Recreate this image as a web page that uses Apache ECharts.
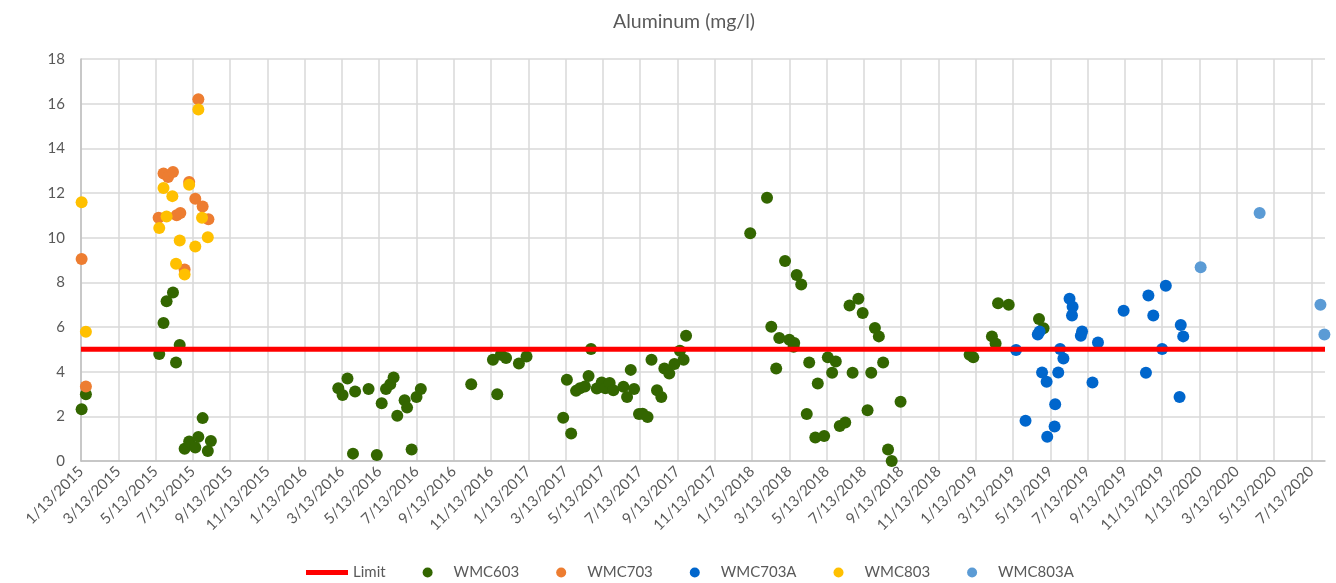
<!DOCTYPE html>
<html>
<head>
<meta charset="utf-8">
<script src="https://cdn.jsdelivr.net/npm/echarts@6/dist/echarts.min.js"></script>
<style>
  html, body { margin: 0; padding: 0; background: #fff; }
  #container { width: 1336px; height: 583px; }
</style>
</head>
<body>
<div id="container"></div>
<script>
// sample dates (m/d/yyyy) and aluminum results
var wmc603Dates = [
  "1/14/2015", "1/21/2015", "5/19/2015", "5/26/2015", "5/31/2015", "6/11/2015", "6/16/2015",
  "6/22/2015", "6/30/2015", "7/7/2015", "7/17/2015", "7/22/2015", "7/29/2015", "8/7/2015", "8/12/2015",
  "3/7/2016", "3/14/2016", "3/22/2016", "3/31/2016", "4/4/2016", "4/26/2016", "5/9/2016", "5/17/2016",
  "5/24/2016", "5/31/2016", "6/6/2016", "6/12/2016", "6/24/2016", "6/28/2016", "7/5/2016", "7/13/2016",
  "7/20/2016", "10/11/2016", "11/16/2016", "11/23/2016", "11/29/2016", "12/7/2016", "12/28/2016", "1/10/2017",
  "3/9/2017", "3/15/2017", "3/22/2017", "3/30/2017", "4/6/2017", "4/14/2017", "4/20/2017", "4/24/2017",
  "5/3/2017", "5/11/2017", "5/17/2017", "5/24/2017", "5/30/2017", "6/16/2017", "6/22/2017", "6/28/2017",
  "7/3/2017", "7/11/2017", "7/17/2017", "7/25/2017", "8/1/2017", "8/10/2017", "8/17/2017", "8/22/2017",
  "8/30/2017", "9/8/2017", "9/17/2017", "9/23/2017", "9/27/2017",
  "1/10/2018", "2/7/2018", "2/14/2018", "2/22/2018", "2/27/2018", "3/6/2018", "3/13/2018", "3/20/2018",
  "3/21/2018", "3/25/2018", "4/2/2018", "4/11/2018", "4/15/2018", "4/25/2018", "4/29/2018", "5/9/2018",
  "5/15/2018", "5/22/2018", "5/28/2018", "6/4/2018", "6/13/2018", "6/20/2018", "6/25/2018", "7/4/2018",
  "7/11/2018", "7/19/2018", "7/25/2018", "7/31/2018", "8/7/2018", "8/14/2018", "8/22/2018", "8/28/2018",
  "9/12/2018",
  "1/3/2019", "1/9/2019", "2/9/2019", "2/15/2019", "2/19/2019", "3/6/2019", "4/25/2019", "5/2/2019"
];
var wmc603Values = [
  2.32, 2.99, 4.79, 6.18, 7.15, 7.55, 4.41,
  5.19, 0.55, 0.87, 0.6, 1.08, 1.92, 0.45, 0.9,
  3.26, 2.95, 3.69, 0.33, 3.11, 3.22, 0.27, 2.59,
  3.22, 3.44, 3.74, 2.03, 2.72, 2.39, 0.51, 2.87,
  3.22, 3.44, 4.53, 2.99, 4.76, 4.61, 4.37, 4.68,
  1.94, 3.64, 1.23, 3.14, 3.26, 3.34, 3.81, 5.01,
  3.25, 3.51, 3.26, 3.49, 3.17, 3.32, 2.87, 4.08,
  3.22, 2.1, 2.12, 1.97, 4.53, 3.17, 2.87, 4.14,
  3.92, 4.34, 4.94, 4.53, 5.61,
  10.2, 11.79, 6.01, 4.14, 5.51, 8.95, 5.43, 5.12,
  5.28, 8.33, 7.9, 2.1, 4.41, 1.05, 3.47, 1.12,
  4.64, 3.95, 4.46, 1.57, 1.72, 6.96, 3.95, 7.26,
  6.63, 2.27, 3.95, 5.96, 5.58, 4.41, 0.52, 0.0,
  2.65,
  4.76, 4.64, 5.58, 5.26, 7.06, 7.0, 6.36, 5.94
];

var wmc703Dates = [
  "1/14/2015", "1/21/2015", "5/18/2015", "5/26/2015", "6/3/2015", "6/11/2015", "6/17/2015",
  "6/23/2015", "6/30/2015", "7/7/2015", "7/17/2015", "7/22/2015", "7/29/2015", "8/8/2015"
];
var wmc703Values = [9.05, 3.34, 10.89, 12.87, 12.72, 12.94, 11.0, 11.1, 8.57, 12.49, 11.74, 16.2, 11.4, 10.82];

var wmc703aDates = [
  "3/18/2019", "4/3/2019", "4/23/2019", "4/26/2019", "4/30/2019", "5/7/2019", "5/8/2019",
  "5/20/2019", "5/21/2019", "5/26/2019", "5/29/2019", "6/4/2019", "6/14/2019", "6/18/2019",
  "6/19/2019", "7/2/2019", "7/4/2019", "7/21/2019", "7/30/2019", "9/11/2019", "10/17/2019",
  "10/21/2019", "10/29/2019", "11/13/2019", "11/19/2019", "12/11/2019", "12/13/2019", "12/17/2019"
];
var wmc703aValues = [
  4.97, 1.8, 5.66, 5.8, 3.96, 3.55, 1.09,
  1.54, 2.54, 3.96, 5.01, 4.59, 7.26, 6.51,
  6.91, 5.61, 5.8, 3.52, 5.31, 6.73, 3.95,
  7.41, 6.51, 5.01, 7.85, 2.87, 6.09, 5.58
];

var wmc803Dates = [
  "1/14/2015", "1/21/2015", "5/19/2015", "5/26/2015", "5/31/2015", "6/10/2015", "6/16/2015",
  "6/22/2015", "6/30/2015", "7/7/2015", "7/17/2015", "7/22/2015", "7/28/2015", "8/7/2015"
];
var wmc803Values = [11.59, 5.79, 10.43, 12.22, 10.95, 11.86, 8.83, 9.87, 8.35, 12.37, 9.6, 15.74, 10.89, 10.02];

var wmc803aDates = ["1/15/2020", "4/20/2020", "7/28/2020", "8/4/2020"];
var wmc803aValues = [8.68, 11.1, 7.0, 5.66];

var limitValue = 5;
var axisStart = "1/13/2015";
var axisEnd = "8/5/2020";
var yTicks = [0, 2, 4, 6, 8, 10, 12, 14, 16, 18];

// x axis runs in months counted from 1/13/2015, so gridlines land on the 13th every 2 months
function toMonths(s) {
  var p = s.split("/").map(Number);
  return (p[2] - 2015) * 12 + (p[0] - 1) + (p[1] - 13) / 30.44;
}
function pairs(dates, values) {
  return dates.map(function (d, i) { return [toMonths(d), values[i]]; });
}

var font = "Lato, 'Open Sans', sans-serif";
var grey = "#595959";
var xMin = toMonths(axisStart);
var xMax = toMonths(axisEnd);

function dots(name, color, dates, values) {
  return {
    name: name,
    type: "scatter",
    symbol: "circle",
    symbolSize: 12,
    itemStyle: { color: color, opacity: 1 },
    data: pairs(dates, values),
  };
}

var option = {
  animation: false,
  textStyle: { fontFamily: font },
  title: {
    text: "Aluminum (mg/l)",
    left: 608,
    top: 7,
    textStyle: { fontFamily: font, fontSize: 19.5, fontWeight: "normal", color: grey },
  },
  grid: { left: 81, right: 11, top: 59, bottom: 122 },
  legend: {
    top: 560,
    left: 301,
    itemWidth: 42,
    itemHeight: 10,
    itemGap: 37,
    textStyle: { fontFamily: font, fontSize: 15, color: grey },
    data: [
      { name: "Limit", icon: "path://M0,0H42V5H0Z" },
      "WMC603", "WMC703", "WMC703A", "WMC803", "WMC803A",
    ],
  },
  xAxis: {
    type: "value",
    min: xMin,
    max: xMax,
    interval: 2,
    axisLine: { lineStyle: { color: "#bfbfbf", width: 1.5 } },
    axisTick: { show: false },
    splitLine: { showMaxLine: false, lineStyle: { color: "#d9d9d9", width: 1.5 } },
    axisLabel: {
      rotate: 45,
      fontSize: 15,
      color: grey,
      margin: 8,
      showMaxLabel: false,
      formatter: function (v) {
        var k = Math.round(v);
        if (Math.abs(v - k) > 1e-6 || k % 2) return "";
        return (k % 12 + 1) + "/13/" + (2015 + Math.floor(k / 12));
      },
    },
  },
  yAxis: {
    type: "value",
    min: yTicks[0],
    max: yTicks[yTicks.length - 1],
    interval: 2,
    axisLine: { show: true, lineStyle: { color: "#bfbfbf", width: 1.5 } },
    axisTick: { show: false },
    splitLine: { lineStyle: { color: "#d9d9d9", width: 1.5 } },
    axisLabel: { fontSize: 15, color: grey, margin: 16 },
  },
  series: [
    {
      name: "Limit",
      type: "line",
      symbol: "none",
      lineStyle: { color: "#ff0000", width: 5 },
      itemStyle: { color: "#ff0000" },
      data: [[xMin, limitValue], [xMax, limitValue]],
    },
    dots("WMC603", "#336600", wmc603Dates, wmc603Values),
    dots("WMC703", "#ed7d31", wmc703Dates, wmc703Values),
    dots("WMC703A", "#0066cc", wmc703aDates, wmc703aValues),
    dots("WMC803", "#ffc000", wmc803Dates, wmc803Values),
    dots("WMC803A", "#5b9bd5", wmc803aDates, wmc803aValues),
  ],
};

var mychart = echarts.init(document.querySelector("#container"));
mychart.setOption(option);
</script>
</body>
</html>
